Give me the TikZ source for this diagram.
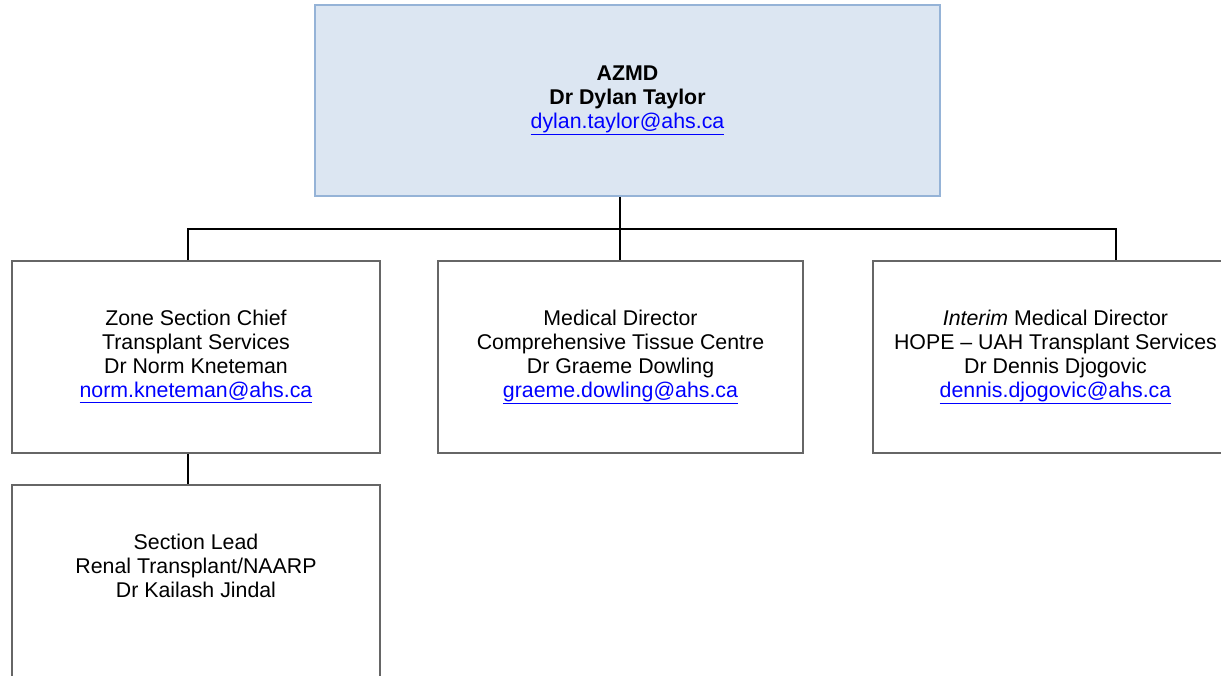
\documentclass[tikz,border=0pt]{standalone}
\usepackage{fontspec}
\setmainfont{Liberation Sans}
\definecolor{boxgray}{HTML}{666666}
\definecolor{topfill}{HTML}{DCE6F2}
\definecolor{topline}{HTML}{95B3D7}
\definecolor{linkblue}{HTML}{0000FF}
\newcommand{\maillink}[1]{\textcolor{linkblue}{\underline{#1}}}
\begin{document}
\begin{tikzpicture}[x=0.75pt,y=-0.75pt,
  box/.style={draw=boxgray, line width=1.3pt, fill=white, align=center,
    font=\fontsize{16}{18}\selectfont, inner sep=0pt, minimum height=192*0.75pt},
  topbox/.style={box, draw=topline, fill=topfill, minimum height=191*0.75pt},
  conn/.style={draw=black, line width=1.3pt}]
\useasboundingbox (0,0) rectangle (1221,675);
\node[topbox, minimum width=625*0.75pt] (top) at (627.5,100.5)
  {\textbf{AZMD}\\ \textbf{Dr Dylan Taylor}\\ \maillink{dylan.taylor@ahs.ca}};
\node[box, minimum width=368*0.75pt] (b1) at (196,357)
  {Zone Section Chief\\ Transplant Services\\ Dr Norm Kneteman\\ \maillink{norm.kneteman@ahs.ca}};
\node[box, minimum width=365*0.75pt] (b2) at (620.5,357)
  {Medical Director\\ Comprehensive Tissue Centre\\ Dr Graeme Dowling\\ \maillink{graeme.dowling@ahs.ca}};
\node[box, minimum width=365*0.75pt] (b3) at (1055.5,357)
  {\textit{Interim} Medical Director\\ HOPE -- UAH Transplant Services\\ Dr Dennis Djogovic\\ \maillink{dennis.djogovic@ahs.ca}};
\node[box, minimum width=368*0.75pt] (b4) at (196,581)
  {Section Lead\\ Renal Transplant/NAARP\\ Dr Kailash Jindal\\ \strut};
\coordinate (jl) at (188,229);
\coordinate (jm) at (620,229);
\coordinate (jr) at (1116,229);
\draw[conn] (jm |- top.south) -- (jm);
\draw[conn] (jl |- b1.north) -- (jl) -- (jr) -- (jr |- b3.north);
\draw[conn] (jm) -- (jm |- b2.north);
\draw[conn] (jl |- b1.south) -- (jl |- b4.north);
\end{tikzpicture}
\end{document}
